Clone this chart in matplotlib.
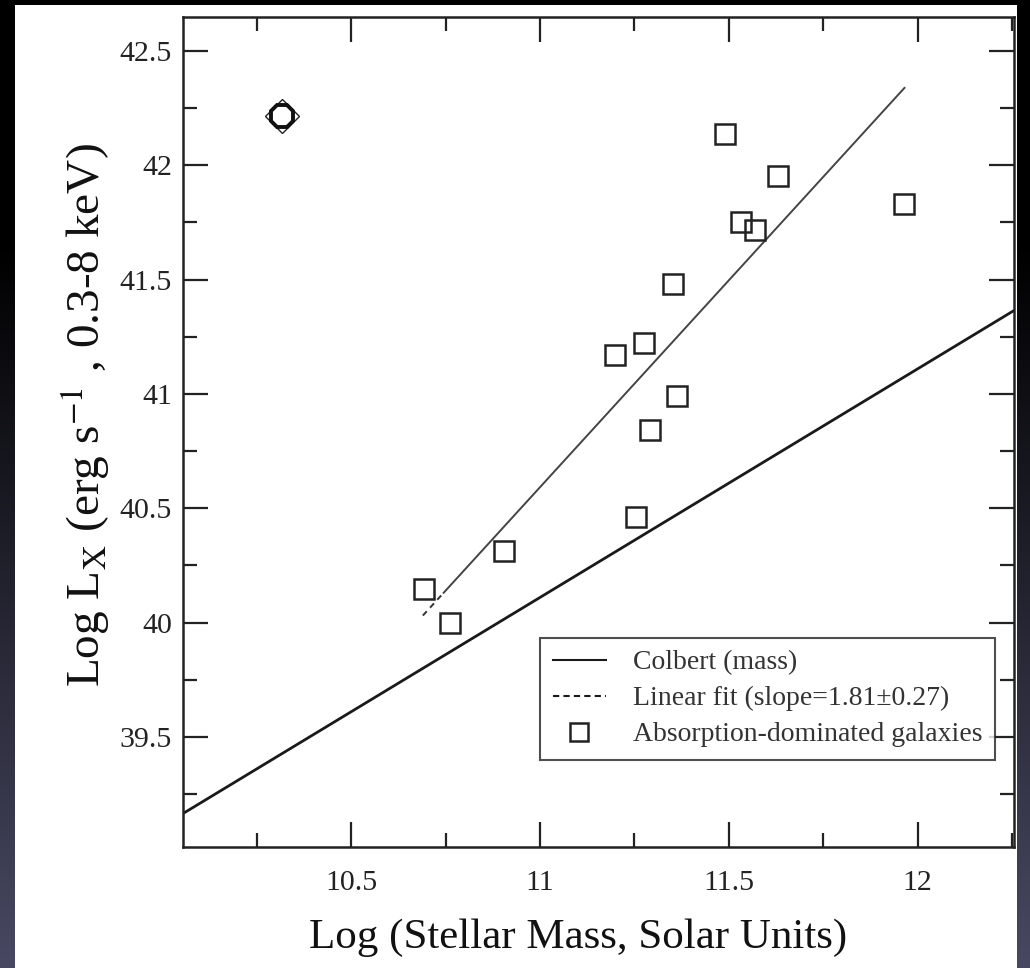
import numpy as np
import matplotlib
matplotlib.use("Agg")
import matplotlib.pyplot as plt
from matplotlib.lines import Line2D
from matplotlib.patches import Rectangle

# ---- data ----
mass = [10.693, 10.761, 10.906, 11.199, 11.276, 11.255, 11.292, 11.363,
        11.353, 11.490, 11.531, 11.568, 11.630, 11.964]
lx = [40.147, 39.998, 40.314, 41.171, 41.224, 40.463, 40.843, 40.992,
      41.482, 42.138, 41.752, 41.719, 41.955, 41.832]
special_mass = [10.316]
special_lx = [42.217]

colbert_x = [10.0, 12.3]
colbert_offset = 29.11
fit_slope = 1.81
fit_intercept = 20.682
fit_dash_x = [10.69, 10.74]
fit_solid_x = [10.745, 11.965]

xticks = [10.5, 11, 11.5, 12]
xticklabels = ["10.5", "11", "11.5", "12"]
yticks = [39.5, 40, 40.5, 41, 41.5, 42, 42.5]
yticklabels = ["39.5", "40", "40.5", "41", "41.5", "42", "42.5"]

plt.rcParams['font.family'] = ['Liberation Serif', 'DejaVu Serif']
plt.rcParams['mathtext.fontset'] = 'stix'

W, H = 1030, 968
fig = plt.figure(figsize=(W / 100, H / 100), dpi=100)

# background gradient (slide)
bg = fig.add_axes([0, 0, 1, 1], zorder=-10)
bg.set_axis_off()
t = np.clip((np.linspace(0, 1, 400) - 0.25) / 0.75, 0, 1)[:, None]
top = np.array([0, 0, 0]) / 255.0
bottom = np.array([72, 72, 98]) / 255.0
grad = (top[None, :] * (1 - t) + bottom[None, :] * t)[:, None, :]
grad = np.repeat(grad, 2, axis=1)
bg.imshow(grad, aspect='auto', extent=[0, W, H, 0])
bg.add_patch(Rectangle((15, 5), 1017 - 15, H - 5, facecolor='white', edgecolor='none'))
bg.set_xlim(0, W)
bg.set_ylim(H, 0)

ax = fig.add_axes([183 / W, 1 - 846.7 / H, (1014 - 183) / W, (846.7 - 16.7) / H])
ax.set_facecolor('white')

ax.set_xlim(10.055, 12.255)
ax.set_ylim(39.02, 42.65)

# Colbert line
cx = np.array(colbert_x)
ax.plot(cx, cx + colbert_offset, color='#1a1a1a', lw=2.0, solid_capstyle='butt')

# Linear fit line
fdx = np.array(fit_dash_x)
ax.plot(fdx, fit_slope * fdx + fit_intercept, color='#333333', lw=1.4, ls=(0, (3, 2.5)))
fsx = np.array(fit_solid_x)
ax.plot(fsx, fit_slope * fsx + fit_intercept, color='#444444', lw=1.4)

# squares
ax.plot(mass, lx, ls='none', marker='s', markersize=14.5, markerfacecolor='none',
        markeredgecolor='#222222', markeredgewidth=1.8)

# special point
ax.plot(special_mass, special_lx, ls='none', marker='D', markersize=17.5,
        markerfacecolor='none', markeredgecolor='#222222', markeredgewidth=1.0)
ax.plot(special_mass, special_lx, ls='none', marker='8', markersize=17,
        markerfacecolor='white', markeredgecolor='#111111', markeredgewidth=2.8)

ax.set_xticks(xticks)
ax.set_xticklabels(xticklabels)
ax.set_yticks(yticks)
ax.set_yticklabels(yticklabels)
ax.set_xticks(np.arange(10.25, 12.3, 0.5), minor=True)
ax.set_yticks(np.arange(39.25, 42.7, 0.5), minor=True)
ax.tick_params(which='both', direction='in', top=True, right=True, width=1.6,
               color='#222222', labelsize=21.5, labelcolor='#222222')
ax.tick_params(which='major', length=18)
ax.tick_params(axis='y', which='major', pad=8)
ax.tick_params(axis='x', which='major', pad=17)
ax.tick_params(which='minor', length=10)
for s in ax.spines.values():
    s.set_linewidth(1.8)
    s.set_color('#222222')

ax.set_xlabel('Log (Stellar Mass, Solar Units)', fontsize=31, color='#111111')
ax.xaxis.set_label_coords(0.475, -0.087)
ax.set_ylabel(r'Log L$_\mathrm{X}$ (erg s$^{-1}$ , 0.3-8 keV)', fontsize=34,
              color='#111111')
ax.yaxis.set_label_coords(-0.086, 0.52)

handles = [
    Line2D([], [], color='#1a1a1a', lw=1.5),
    Line2D([], [], color='#1a1a1a', lw=1.5, ls=(0, (3, 2))),
    Line2D([], [], ls='none', marker='s', markersize=13, markerfacecolor='none',
           markeredgecolor='#222222', markeredgewidth=1.8),
]
labels = ['Colbert (mass)', 'Linear fit (slope=1.81\u00b10.27)', 'Absorption-dominated galaxies']
leg = ax.legend(handles, labels, loc='upper left', bbox_to_anchor=(0.43, 0.252),
                fontsize=20, frameon=True, fancybox=False, borderpad=0.45,
                handlelength=1.9, handletextpad=1.0, labelspacing=0.38,
                borderaxespad=0)
leg.get_frame().set_edgecolor('#222222')
leg.get_frame().set_linewidth(1.5)
for txt in leg.get_texts():
    txt.set_color('#333333')

fig.savefig('out.png', dpi=100)
